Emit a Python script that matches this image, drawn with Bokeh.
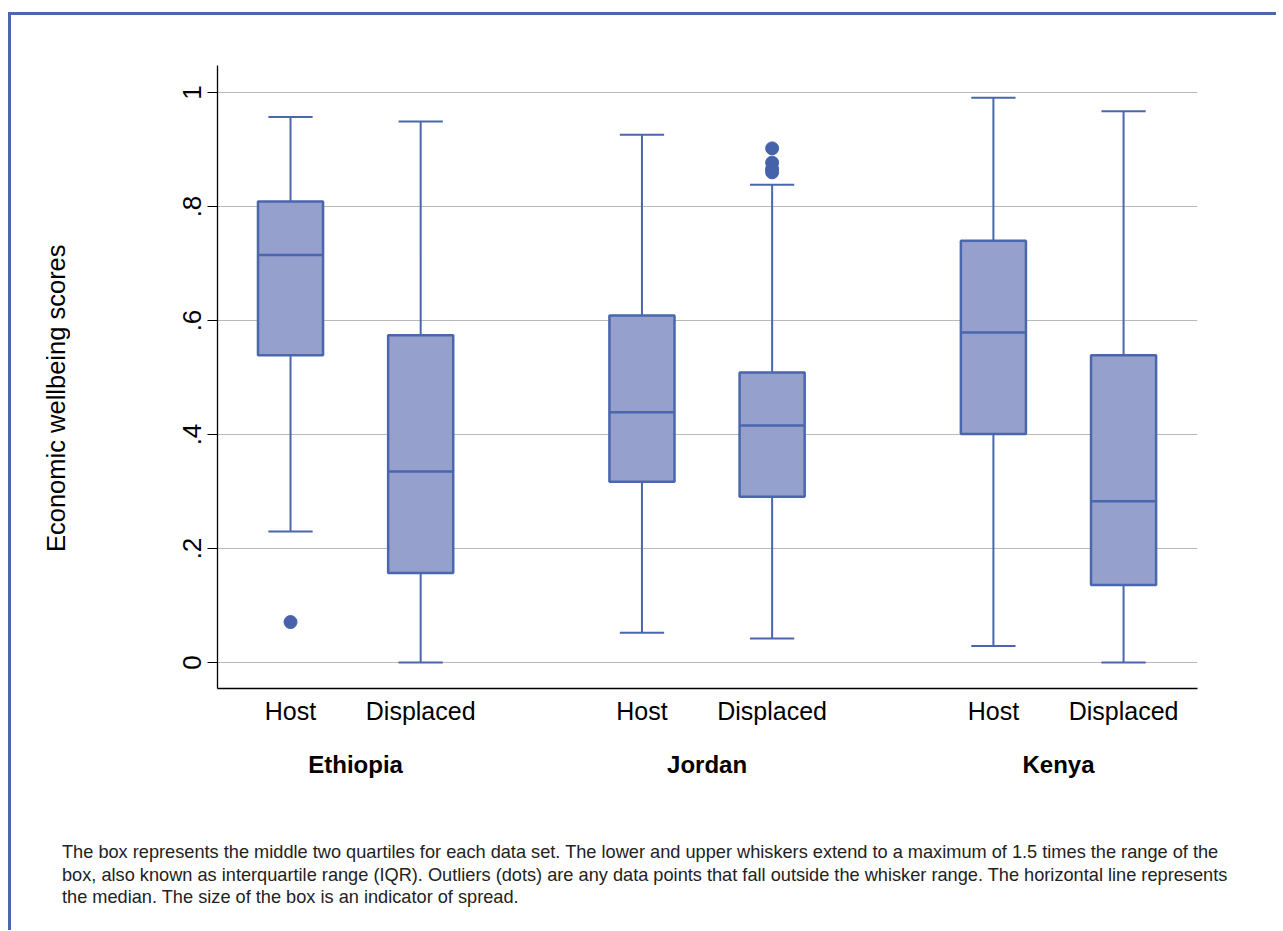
from bokeh.plotting import figure
from bokeh.models import FixedTicker, LinearAxis, Range1d, Div
from bokeh.layouts import column, row
from bokeh.embed import file_html
from bokeh.resources import INLINE

# ---- data -------------------------------------------------------------
countries = ["Ethiopia", "Jordan", "Kenya"]
groups = ["Host", "Displaced"]

# five-number summaries, country by country, Host then Displaced
lower_whisker = [0.230, 0.000, 0.052, 0.042, 0.029, 0.000]
q1 = [0.539, 0.157, 0.317, 0.291, 0.401, 0.136]
median = [0.715, 0.335, 0.439, 0.416, 0.579, 0.283]
q3 = [0.809, 0.574, 0.609, 0.509, 0.740, 0.539]
upper_whisker = [0.957, 0.949, 0.926, 0.838, 0.991, 0.967]

# points beyond the whiskers: which box they belong to, and their value
outlier_box = [0, 3, 3, 3, 3]
outlier_value = [0.071, 0.902, 0.877, 0.866, 0.860]

y_ticks = [0, 0.2, 0.4, 0.6, 0.8, 1.0]
y_tick_labels = ["0", ".2", ".4", ".6", ".8", "1"]
y_title = "Economic wellbeing scores"

caption_lines = [
    "The box represents the middle two quartiles for each data set. The lower and upper whiskers extend to a maximum of 1.5 times the range of the",
    "box, also known as interquartile range (IQR). Outliers (dots) are any data points that fall outside the whisker range. The horizontal line represents",
    "the median. The size of the box is an indicator of spread.",
]

# ---- layout of the boxes along x ---------------------------------------
GROUP_STEP = 27   # distance between country blocks
PAIR_STEP = 10    # distance between Host and Displaced within a block
FIRST = 10
n_boxes = len(countries) * len(groups)
xs = [FIRST + GROUP_STEP * (i // len(groups)) + PAIR_STEP * (i % len(groups)) for i in range(n_boxes)]
box_labels = [groups[i % len(groups)] for i in range(n_boxes)]
country_x = [FIRST + GROUP_STEP * c + PAIR_STEP * (len(groups) - 1) / 2 for c in range(len(countries))]

BOX_W = 5.0
CAP_W = 3.4

FONT = "Liberation Sans"
LINE = "#4a66ad"
FILL = "#95a1cc"

TITLE_COL_W = 70   # width of the strip holding the vertical y title

p = figure(
    width=1265 - TITLE_COL_W, height=785,
    x_range=Range1d(4.39, 79.68),
    y_range=Range1d(-0.0456, 1.0474),
    output_backend="svg", toolbar_location=None, tools="",
    min_border_left=206 - TITLE_COL_W, min_border_right=79,
    min_border_top=50, min_border_bottom=112,
)
p.outline_line_color = None
p.background_fill_color = "white"
p.border_fill_color = "white"
p.xgrid.visible = False
p.ygrid.grid_line_color = "#b9b9b9"
p.ygrid.grid_line_width = 1
p.ygrid.ticker = FixedTicker(ticks=y_ticks)

# whiskers
p.segment(x0=xs, y0=lower_whisker, x1=xs, y1=q1, line_color=LINE, line_width=2)
p.segment(x0=xs, y0=q3, x1=xs, y1=upper_whisker, line_color=LINE, line_width=2)
# caps
p.segment(x0=[x - CAP_W / 2 for x in xs], y0=upper_whisker,
          x1=[x + CAP_W / 2 for x in xs], y1=upper_whisker, line_color=LINE, line_width=2)
p.segment(x0=[x - CAP_W / 2 for x in xs], y0=lower_whisker,
          x1=[x + CAP_W / 2 for x in xs], y1=lower_whisker, line_color=LINE, line_width=2)
# boxes
p.vbar(x=xs, width=BOX_W, bottom=q1, top=q3, fill_color=FILL, line_color=LINE, line_width=2.5)
# medians
p.segment(x0=[x - BOX_W / 2 for x in xs], y0=median,
          x1=[x + BOX_W / 2 for x in xs], y1=median, line_color=LINE, line_width=2.5)
# outliers
p.scatter(x=[xs[i] for i in outlier_box], y=outlier_value, size=13,
          fill_color="#4562ab", line_color="#4562ab")

# y axis
ya = p.yaxis[0]
ya.ticker = FixedTicker(ticks=y_ticks)
ya.major_label_overrides = dict(zip(y_ticks, y_tick_labels))
ya.major_label_orientation = "vertical"
ya.major_tick_out = 10
ya.major_tick_in = 0
ya.minor_tick_line_color = None
ya.major_label_standoff = 6
ya.major_label_text_font = FONT
ya.major_label_text_font_size = "26px"
ya.major_label_text_color = "black"
ya.axis_line_color = "black"
ya.axis_line_width = 1.3
ya.major_tick_line_color = "black"

# x axis: group labels
xa = p.xaxis[0]
xa.ticker = FixedTicker(ticks=xs)
xa.major_label_overrides = dict(zip(xs, box_labels))
xa.major_tick_line_color = None
xa.minor_tick_line_color = None
xa.major_tick_out = 0
xa.major_tick_in = 0
xa.major_label_standoff = 8
xa.major_label_text_font = FONT
xa.major_label_text_font_size = "25px"
xa.major_label_text_color = "black"
xa.axis_line_color = "black"
xa.axis_line_width = 1.3

# second row of x labels: countries
ca = LinearAxis(
    ticker=FixedTicker(ticks=country_x),
    major_label_overrides=dict(zip(country_x, countries)),
    axis_line_color=None, major_tick_line_color=None, minor_tick_line_color=None,
    major_tick_out=0, major_tick_in=0,
    major_label_standoff=23,
    major_label_text_font=FONT, major_label_text_font_size="24px",
    major_label_text_font_style="bold", major_label_text_color="black",
)
p.add_layout(ca, "below")

# vertical y title, reading upwards, set a little below the frame centre
y_title_div = Div(
    text=('<div style="margin-left:30px; margin-top:227px; width:30px; height:310px; '
          'writing-mode:vertical-rl; transform:rotate(180deg); white-space:nowrap; '
          'font-family:\'Liberation Sans\', sans-serif; font-size:25.5px; line-height:30px; '
          'color:black;">' + y_title + '</div>'),
    width=TITLE_COL_W, height=785, margin=0,
)

caption = Div(
    text=('<div style="margin:41px 0 0 51px; font-family:\'Liberation Sans\', sans-serif; '
          'font-size:18.2px; line-height:22.7px; color:#222; white-space:nowrap;">'
          + "<br>".join(caption_lines) + "</div>"),
    width=1265, height=130, margin=0,
)

page = column(
    row(y_title_div, p), caption,
    styles={"margin-left": "8px", "margin-top": "12px",
            "border-left": "3px solid #4a67b0", "border-top": "3px solid #4a67b0"},
)

open("out.html", "w").write(file_html(page, INLINE))
